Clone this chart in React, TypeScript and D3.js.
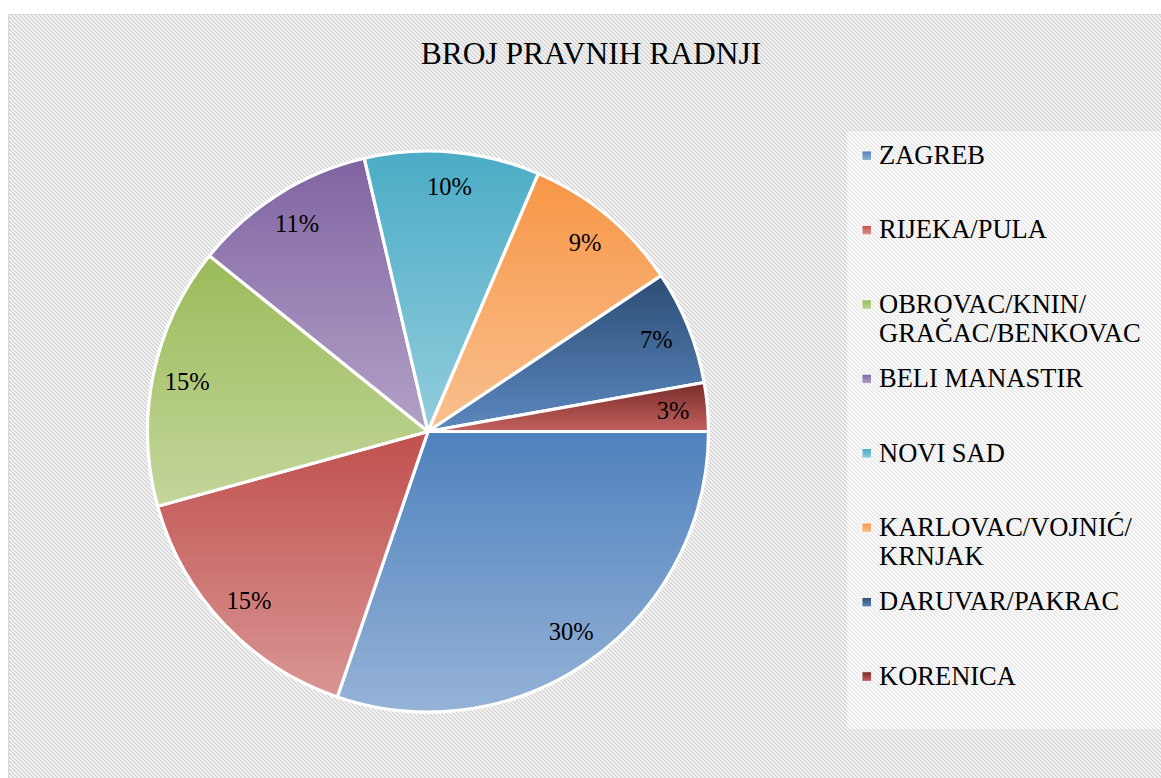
import React from "react";
import * as d3 from "d3";

const title = "BROJ PRAVNIH RADNJI";
const categories = [
  "ZAGREB",
  "RIJEKA/PULA",
  "OBROVAC/KNIN/\nGRAČAC/BENKOVAC",
  "BELI MANASTIR",
  "NOVI SAD",
  "KARLOVAC/VOJNIĆ/\nKRNJAK",
  "DARUVAR/PAKRAC",
  "KORENICA",
];
const values = [30.3, 15.5, 15.1, 10.6, 10.1, 9.2, 6.6, 2.8];
const topColors = ["#4f81bd", "#c0504d", "#9bbb59", "#8064a2", "#4bacc6", "#f79646", "#2c4d75", "#772c2a"];
const bottomColors = ["#95b3d7", "#d99694", "#c3d69b", "#b3a2c7", "#93cddd", "#fac090", "#5c88bf", "#c4615e"];

const W = 1161;
const H = 778;
const cx = 428;
const cy = 431.5;
const R = 280.5;
const labelR = 246;
const FONT = "'Liberation Serif', 'Times New Roman', Times, serif";

export default function App() {
  const total = d3.sum(values);
  const pie = d3
    .pie<number>()
    .sort(null)
    .startAngle(Math.PI / 2)
    .endAngle(Math.PI / 2 + 2 * Math.PI);
  const arcs = pie(values);
  const arcGen = d3.arc<d3.PieArcDatum<number>>().innerRadius(0).outerRadius(R);
  const labelArc = d3.arc<d3.PieArcDatum<number>>().innerRadius(labelR).outerRadius(labelR);

  const legendX = 862;
  const legendY0 = 164;
  const legendStep = 74.4;
  const legendLine = 29;

  return (
    <svg
      width={W}
      height={H}
      style={{ position: "absolute", left: 0, top: 0, display: "block" }}
    >
      <defs>
        <pattern id="hatch" patternUnits="userSpaceOnUse" width="4" height="4">
          <rect width="4" height="4" fill="#fbfbfb" />
          <path d="M-1,-1 L5,5 M-1,3 L1,5 M3,-1 L5,1" stroke="#d3d3d3" strokeWidth="1.5" />
        </pattern>
        <pattern id="hatchLight" patternUnits="userSpaceOnUse" width="4" height="4">
          <rect width="4" height="4" fill="#ffffff" />
          <path d="M-1,-1 L5,5 M-1,3 L1,5 M3,-1 L5,1" stroke="#e6e6e6" strokeWidth="1.4" />
        </pattern>
        {values.map((_, i) => (
          <linearGradient key={i} id={`g${i}`} x1="0" y1="0" x2="0" y2="1">
            <stop offset="0" stopColor={topColors[i]} />
            <stop offset="1" stopColor={bottomColors[i]} />
          </linearGradient>
        ))}
        {values.map((_, i) => (
          <linearGradient key={`l${i}`} id={`lg${i}`} x1="0" y1="0" x2="0" y2="1">
            <stop offset="0" stopColor={topColors[i]} />
            <stop offset="1" stopColor={bottomColors[i]} />
          </linearGradient>
        ))}
      </defs>
      <rect x={8.5} y={14.5} width={W + 10} height={H + 10} fill="url(#hatch)" stroke="#d9d9d9" strokeWidth={1} />
      <text
        x={591}
        y={64}
        textAnchor="middle"
        fontFamily={FONT}
        fontSize={31.5}
        fill="#000"
      >
        {title}
      </text>
      <g transform={`translate(${cx},${cy})`}>
        {arcs.map((a, i) => (
          <path key={i} d={arcGen(a) || ""} fill={`url(#g${i})`} stroke="#ffffff" strokeWidth={3.2} strokeLinejoin="round" />
        ))}
        {arcs.map((a, i) => {
          const [lx, ly] = labelArc.centroid(a);
          return (
            <text
              key={i}
              x={lx}
              y={ly}
              dy="0.35em"
              textAnchor="middle"
              fontFamily={FONT}
              fontSize={24.5}
              fill="#000"
            >
              {`${Math.round((values[i] / total) * 100)}%`}
            </text>
          );
        })}
      </g>
      <rect x={847} y={131} width={W - 847} height={598} fill="url(#hatchLight)" />
      {categories.map((c, i) => {
        const y = legendY0 + i * legendStep;
        const lines = c.split("\n");
        return (
          <g key={i}>
            <rect x={legendX} y={y - 13} width={9.5} height={9.5} fill={`url(#lg${i})`} stroke="#ffffff" strokeWidth={0.8} />
            <text x={879} y={y} fontFamily={FONT} fontSize={26.5} fill="#000">
              {lines.map((ln, j) => (
                <tspan key={j} x={879} y={y + j * legendLine}>
                  {ln}
                </tspan>
              ))}
            </text>
          </g>
        );
      })}
    </svg>
  );
}
